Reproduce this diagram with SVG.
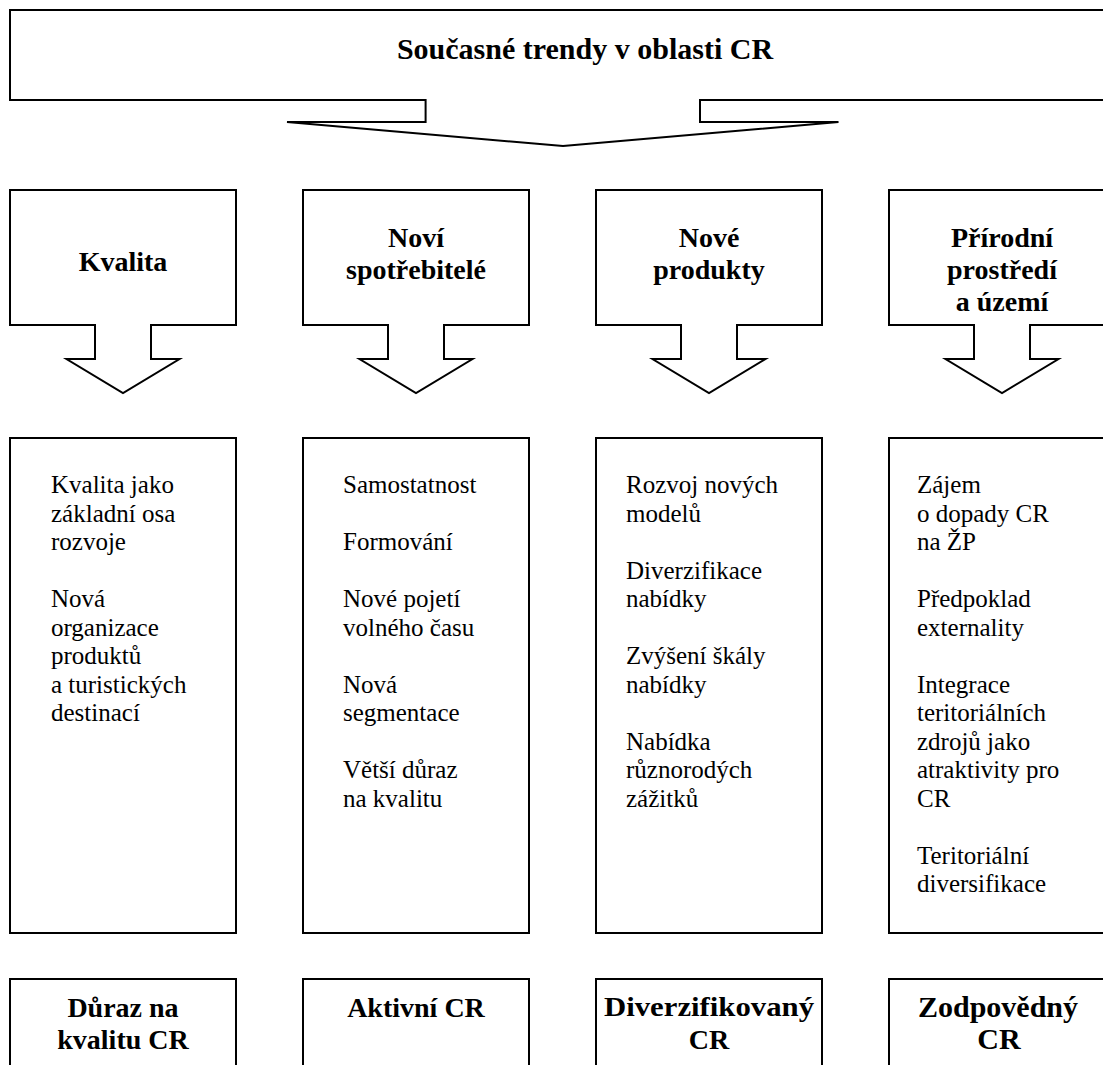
<svg xmlns="http://www.w3.org/2000/svg" width="1103" height="1065" viewBox="0 0 1103 1065" font-family="'Liberation Serif', 'Times New Roman', 'DejaVu Serif', serif">
<style>
.sh{fill:#fff;stroke:#000;stroke-width:2;stroke-linejoin:miter}
text{font-family:'Liberation Serif','Times New Roman','DejaVu Serif',serif;fill:#000}
.h{font-size:28px;font-weight:bold;text-anchor:middle}
.title{font-size:30px;font-weight:bold;text-anchor:middle}
.b{font-size:25px}
</style>
<rect width="1103" height="1065" fill="#fff"/>
<g id="top">
<path class="sh" d="M10,10 H1116 V100 H700 V122 H838.5 L563,146 L287,122 H425.6 V100 H10 Z"/>
<text class="title" x="585" y="59">Současné trendy v oblasti CR</text>
</g>
<g id="h1">
<path class="sh" d="M10,190 H236 V325 H151 V359 H179.5 L123,393 L66.5,359 H95 V325 H10 Z"/>
<text class="h" x="123" y="271">Kvalita</text>
</g>
<g id="h2">
<path class="sh" d="M303,190 H529 V325 H444 V359 H472.5 L416,393 L359.5,359 H388 V325 H303 Z"/>
<text class="h" x="416" y="247">Noví</text>
<text class="h" x="416" y="279">spotřebitelé</text>
</g>
<g id="h3">
<path class="sh" d="M596,190 H822 V325 H737 V359 H765.5 L709,393 L652.5,359 H681 V325 H596 Z"/>
<text class="h" x="709" y="247">Nové</text>
<text class="h" x="709" y="279">produkty</text>
</g>
<g id="h4">
<path class="sh" d="M889,190 H1115 V325 H1030 V359 H1058.5 L1002,393 L945.5,359 H974 V325 H889 Z"/>
<text class="h" x="1002" y="247">Přírodní</text>
<text class="h" x="1002" y="279">prostředí</text>
<text class="h" x="1002" y="311">a území</text>
</g>
<g id="connectors"></g>
<g id="c1">
<rect class="sh" x="10" y="438" width="226" height="495"/>
<text class="b">
<tspan x="51" y="493">Kvalita jako</tspan>
<tspan x="51" y="521.5">základní osa</tspan>
<tspan x="51" y="550">rozvoje</tspan>
<tspan x="51" y="607">Nová</tspan>
<tspan x="51" y="635.5">organizace</tspan>
<tspan x="51" y="664">produktů</tspan>
<tspan x="51" y="692.5">a turistických</tspan>
<tspan x="51" y="721">destinací</tspan>
</text>
</g>
<g id="c2">
<rect class="sh" x="303" y="438" width="226" height="495"/>
<text class="b">
<tspan x="343" y="493">Samostatnost</tspan>
<tspan x="343" y="550">Formování</tspan>
<tspan x="343" y="607">Nové pojetí</tspan>
<tspan x="343" y="635.5">volného času</tspan>
<tspan x="343" y="692.5">Nová</tspan>
<tspan x="343" y="721">segmentace</tspan>
<tspan x="343" y="778">Větší důraz</tspan>
<tspan x="343" y="806.5">na kvalitu</tspan>
</text>
</g>
<g id="c3">
<rect class="sh" x="596" y="438" width="226" height="495"/>
<text class="b">
<tspan x="626" y="493">Rozvoj nových</tspan>
<tspan x="626" y="521.5">modelů</tspan>
<tspan x="626" y="578.5">Diverzifikace</tspan>
<tspan x="626" y="607">nabídky</tspan>
<tspan x="626" y="664">Zvýšení škály</tspan>
<tspan x="626" y="692.5">nabídky</tspan>
<tspan x="626" y="749.5">Nabídka</tspan>
<tspan x="626" y="778">různorodých</tspan>
<tspan x="626" y="806.5">zážitků</tspan>
</text>
</g>
<g id="c4">
<rect class="sh" x="889" y="438" width="226" height="495"/>
<text class="b">
<tspan x="917" y="493">Zájem</tspan>
<tspan x="917" y="521.5">o dopady CR</tspan>
<tspan x="917" y="550">na ŽP</tspan>
<tspan x="917" y="607">Předpoklad</tspan>
<tspan x="917" y="635.5">externality</tspan>
<tspan x="917" y="692.5">Integrace</tspan>
<tspan x="917" y="721">teritoriálních</tspan>
<tspan x="917" y="749.5">zdrojů jako</tspan>
<tspan x="917" y="778">atraktivity pro</tspan>
<tspan x="917" y="806.5">CR</tspan>
<tspan x="917" y="863.5">Teritoriální</tspan>
<tspan x="917" y="892">diversifikace</tspan>
</text>
</g>
<g id="r1">
<rect class="sh" x="10" y="979" width="226" height="120"/>
<text class="h" x="123" y="1017">Důraz na</text>
<text class="h" x="123" y="1049">kvalitu CR</text>
</g>
<g id="r2">
<rect class="sh" x="303" y="979" width="226" height="120"/>
<text class="h" x="416" y="1017">Aktivní CR</text>
</g>
<g id="r3">
<rect class="sh" x="596" y="979" width="226" height="120"/>
<text class="h" x="709" y="1016" style="font-size:27px" textLength="210" lengthAdjust="spacingAndGlyphs">Diverzifikovaný</text>
<text class="h" x="709" y="1049">CR</text>
</g>
<g id="r4">
<rect class="sh" x="889" y="979" width="226" height="120"/>
<text class="h" x="998" y="1017" style="font-size:30px">Zodpovědný</text>
<text class="h" x="999" y="1049" style="font-size:30px">CR</text>
</g>
</svg>
